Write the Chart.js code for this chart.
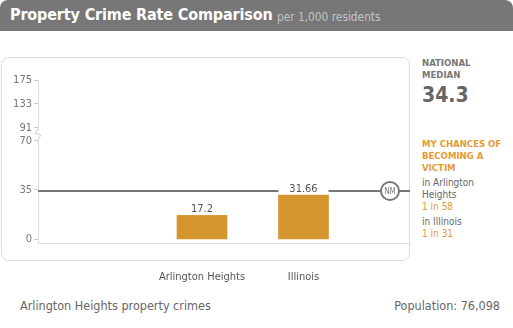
<!DOCTYPE html>
<html>
<head>
<meta charset="utf-8">
<script src="https://cdn.jsdelivr.net/npm/chart.js@4.4.1/dist/chart.umd.min.js"></script>
<style>
  body { margin: 0; background: #fff; font-family: "DejaVu Sans Condensed", "DejaVu Sans", sans-serif; }
  #page { position: relative; width: 513px; height: 328px; overflow: hidden; }
  .header { position: absolute; left: 0; top: 0; width: 513px; height: 31px; background: #777; border-radius: 8px 8px 0 0; }
  .header .title { position: absolute; left: 10px; top: 5px; color: #fff; font-weight: bold; font-size: 16px; letter-spacing: -0.15px; white-space: nowrap; }
  .header .sub { position: absolute; left: 277px; top: 10px; color: #c4c4c4; font-size: 11.8px; white-space: nowrap; }
  .frame { position: absolute; left: 1px; top: 57px; width: 407px; height: 202px; border: 1px solid #ddd; border-radius: 8px; }
  #chartBox { position: absolute; left: 0; top: 50px; width: 412px; height: 240px; }
  .side { position: absolute; left: 422px; white-space: nowrap; }
  .lbl { font-size: 9.5px; font-weight: bold; color: #777; line-height: 12px; }
  .big { font-size: 21px; font-weight: bold; color: #666; }
  .orange { color: #e59b35; }
  .txt { font-size: 10px; color: #666; line-height: 12px; }
  .foot { position: absolute; top: 298px; font-size: 12.5px; color: #666; white-space: nowrap; }
</style>
</head>
<body>
<div id="page">
  <div class="header">
    <span class="title">Property Crime Rate Comparison</span>
    <span class="sub">per 1,000 residents</span>
  </div>
  <div class="frame"></div>
  <div id="chartBox"><canvas id="crimeChart"></canvas></div>

  <div class="side lbl" style="top:57px;">NATIONAL<br>MEDIAN</div>
  <div class="side big" style="top:83px;">34.3</div>
  <div class="side lbl orange" style="top:138px;">MY CHANCES OF<br>BECOMING A<br>VICTIM</div>
  <div class="side txt" style="top:177px;">in Arlington<br>Heights<br><span class="orange">1 in 58</span></div>
  <div class="side txt" style="top:216px;">in Illinois<br><span class="orange">1 in 31</span></div>

  <div class="foot" style="left:20px;">Arlington Heights property crimes</div>
  <div class="foot" style="right:13px;">Population: 76,098</div>
</div>

<script>
  // Data
  const categories = ['Arlington Heights', 'Illinois'];
  const crimeRates = [17.2, 31.66];
  const rateLabels = ['17.2', '31.66'];
  const nationalMedian = 34.3;
  const yTicks = [0, 35, 70, 91, 133, 175];

  const FONT = '"DejaVu Sans Condensed", "DejaVu Sans", sans-serif';

  // Broken y axis: 70..91 is squeezed out
  const breakLow = 70, breakHigh = 91;
  const yMin = -2.63, yMax = 175;
  const lowShare = 0.6276, highStart = 0.7074;

  function breakFrac(v) {
    if (v <= breakLow) return (v - yMin) / (breakLow - yMin) * lowShare;
    if (v >= breakHigh) return highStart + (v - breakHigh) / (yMax - breakHigh) * (1 - highStart);
    return lowShare + (v - breakLow) / (breakHigh - breakLow) * (highStart - lowShare);
  }

  class BrokenScale extends Chart.LinearScale {
    buildTicks() {
      return yTicks.map(v => ({ value: v }));
    }
    getPixelForValue(v) {
      return this.getPixelForDecimal(breakFrac(v));
    }
    getValueForPixel(p) {
      const d = this.getDecimalForPixel(p);
      if (d <= lowShare) return yMin + d / lowShare * (breakLow - yMin);
      if (d >= highStart) return breakHigh + (d - highStart) / (1 - highStart) * (yMax - breakHigh);
      return breakLow + (d - lowShare) / (highStart - lowShare) * (breakHigh - breakLow);
    }
  }
  BrokenScale.id = 'broken';
  BrokenScale.defaults = Chart.LinearScale.defaults;
  Chart.register(BrokenScale);

  // Median line, value labels, NM badge, axis break
  const overlayPlugin = {
    id: 'overlay',
    afterDatasetsDraw(chart) {
      const ctx = chart.ctx;
      const area = chart.chartArea;
      const y = chart.scales.y;
      const ly = y.getPixelForValue(nationalMedian);

      ctx.save();
      // axis break
      const by = (y.getPixelForValue(breakLow) + y.getPixelForValue(breakHigh)) / 2;
      ctx.fillStyle = '#fff';
      ctx.fillRect(area.left - 2, by - 4, 4, 8);
      ctx.strokeStyle = '#ccc';
      ctx.lineWidth = 1;
      ctx.beginPath();
      ctx.moveTo(area.left, by - 5);
      ctx.lineTo(area.left - 3, by - 1);
      ctx.lineTo(area.left + 3, by + 1);
      ctx.lineTo(area.left, by + 5);
      ctx.stroke();

      // median line
      ctx.strokeStyle = '#777';
      ctx.lineWidth = 2;
      ctx.beginPath();
      ctx.moveTo(area.left, ly);
      ctx.lineTo(area.right, ly);
      ctx.stroke();

      // value labels
      const meta = chart.getDatasetMeta(0);
      ctx.font = '11px ' + FONT;
      ctx.textAlign = 'center';
      ctx.textBaseline = 'middle';
      meta.data.forEach((bar, i) => {
        const w = bar.width;
        ctx.fillStyle = '#fff';
        ctx.fillRect(bar.x - w / 2, bar.y - 13, w, 13);
        ctx.fillStyle = '#555';
        ctx.fillText(rateLabels[i], bar.x, bar.y - 6);
      });

      // NM badge
      const cx = area.right - 20;
      ctx.beginPath();
      ctx.arc(cx, ly, 9, 0, Math.PI * 2);
      ctx.fillStyle = '#fff';
      ctx.fill();
      ctx.strokeStyle = '#777';
      ctx.lineWidth = 2;
      ctx.stroke();
      ctx.fillStyle = '#777';
      ctx.font = '8px ' + FONT;
      ctx.fillText('NM', cx, ly + 0.5);
      ctx.restore();
    }
  };

  new Chart(document.getElementById('crimeChart'), {
    type: 'bar',
    data: {
      datasets: [{
        data: crimeRates.map((v, i) => ({ x: i, y: v })),
        backgroundColor: '#d5952f',
        barThickness: 50
      }]
    },
    plugins: [overlayPlugin],
    options: {
      responsive: true,
      maintainAspectRatio: false,
      animation: false,
      layout: { padding: { top: 30, right: 2, left: 0, bottom: 0 } },
      plugins: {
        legend: { display: false },
        tooltip: { enabled: false }
      },
      scales: {
        x: {
          type: 'linear',
          offset: false,
          min: -1.6158,
          max: 2.0493,
          afterBuildTicks: (s) => { s.ticks = categories.map((c, i) => ({ value: i })); },
          afterFit: (s) => { s.height = 47; },
          grid: { display: false, offset: false },
          border: { color: '#ddd' },
          ticks: {
            padding: 20,
            autoSkip: false,
            maxRotation: 0,
            color: '#555',
            font: { family: FONT, size: 11 },
            callback: (v) => categories[v]
          }
        },
        y: {
          type: 'broken',
          min: yMin,
          max: yMax,
          afterFit: (s) => { s.width = 38; },
          grid: { drawOnChartArea: false, drawTicks: true, tickLength: 4, color: '#ccc' },
          border: { color: '#ddd' },
          ticks: {
            padding: 2,
            color: '#777',
            font: { family: FONT, size: 11 }
          }
        }
      }
    }
  });
</script>
</body>
</html>
